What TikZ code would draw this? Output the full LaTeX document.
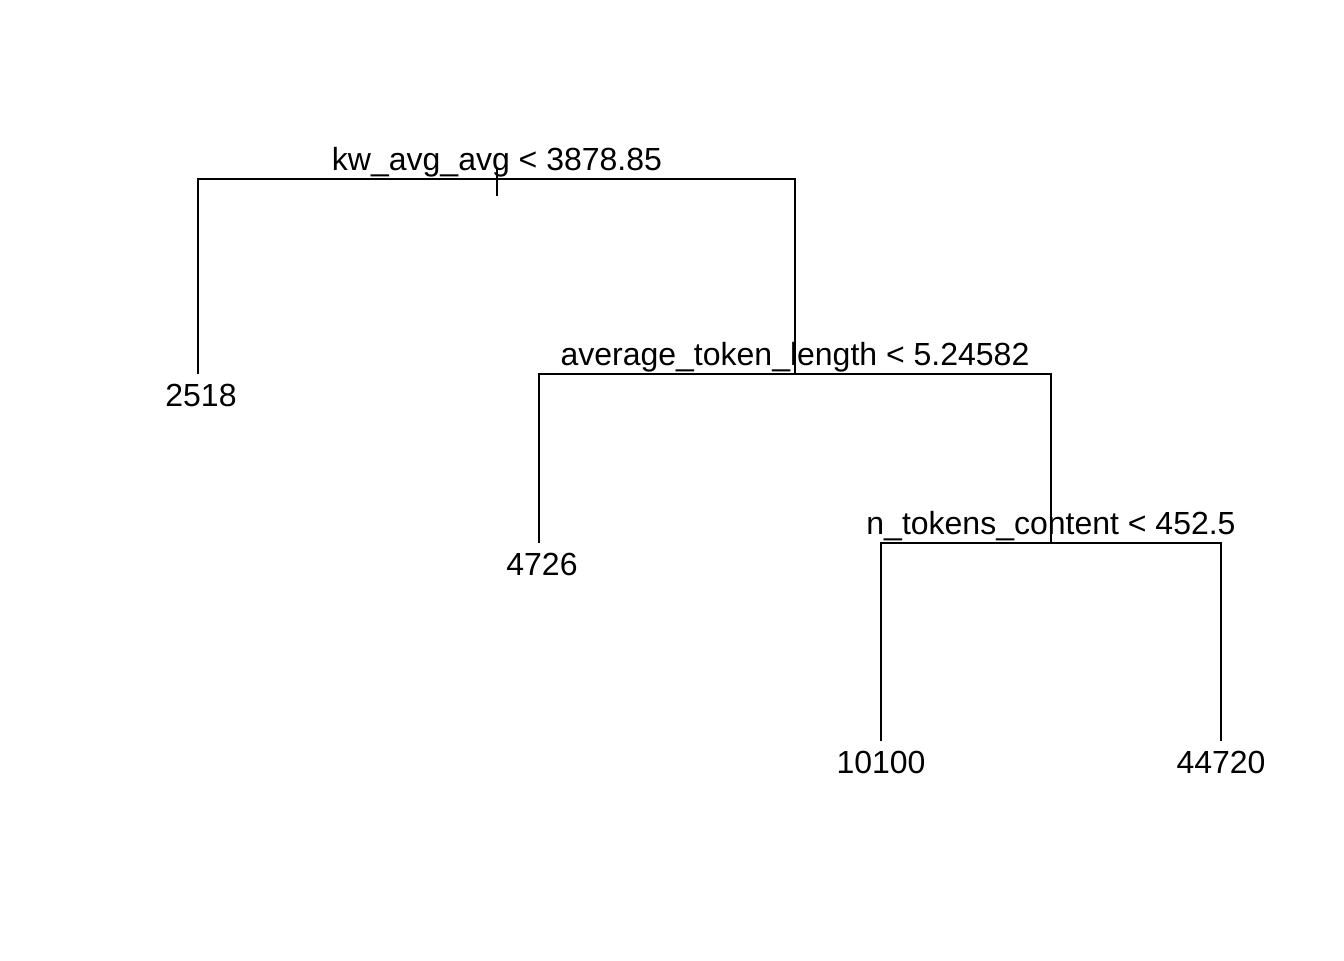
\documentclass[tikz,border=0pt]{standalone}
\usepackage{fontspec}
\setmainfont{Liberation Sans}
\usetikzlibrary{positioning}

\begin{document}
\begin{tikzpicture}[x=0.5pt,y=-0.5pt,line width=1pt,
    split label/.style={anchor=base,inner sep=0pt,font=\fontsize{16}{19}\selectfont},
    leaf label/.style={anchor=base,inner sep=0pt,font=\fontsize{16}{19}\selectfont}]
  \useasboundingbox (0,0) rectangle (1344,960);
  % splits
  \coordinate (root) at (497,179);
  \coordinate (stubtop) at (497,169);
  \coordinate (stub) at (497,196);
  \coordinate (tok) at (795,374);
  \coordinate (cnt) at (1051,543);
  % leaves
  \coordinate (l2518) at (198,374);
  \coordinate (l4726) at (539,543);
  \coordinate (l10100) at (881,741);
  \coordinate (l44720) at (1221,741);

  \draw (stubtop) -- (stub);
  \draw (l2518) |- (root) -| (tok);
  \draw (l4726) |- (tok) -| (cnt);
  \draw (l10100) |- (cnt) -| (l44720);

  \node[split label] (troot) at ([yshift=4.5pt]root) {kw\_avg\_avg < 3878.85};
  \node[split label] (ttok) at ([yshift=4.5pt]tok) {average\_token\_length < 5.24582};
  \node[split label] (tcnt) at ([yshift=4.5pt]cnt) {n\_tokens\_content < 452.5};

  \node[leaf label] (t2518) at ([xshift=1.5pt,yshift=-16pt]l2518) {2518};
  \node[leaf label] (t4726) at ([xshift=1.5pt,yshift=-16pt]l4726) {4726};
  \node[leaf label] (t10100) at ([yshift=-16pt]l10100) {10100};
  \node[leaf label] (t44720) at ([yshift=-16pt]l44720) {44720};
\end{tikzpicture}
\end{document}
